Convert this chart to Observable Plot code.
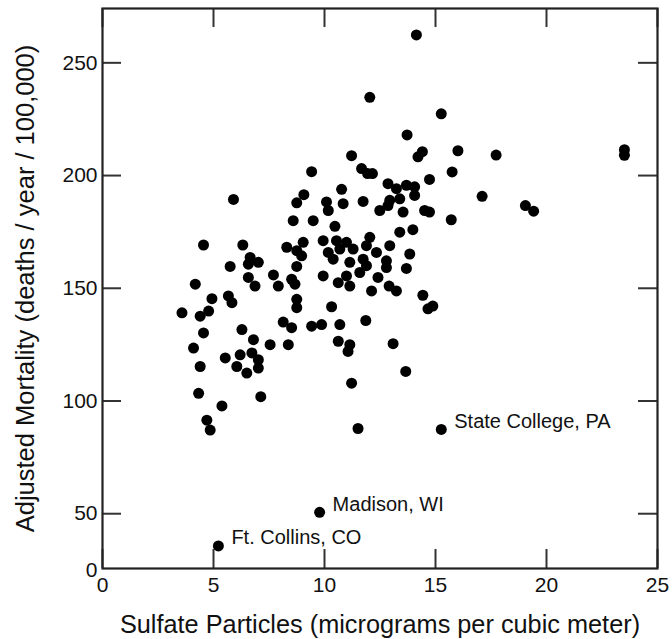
<!DOCTYPE html>
<html><head><meta charset="utf-8">
<script src="https://cdn.jsdelivr.net/npm/d3@7"></script>
<script src="https://cdn.jsdelivr.net/npm/@observablehq/plot@0.6"></script>
<style>
html,body{margin:0;padding:0;background:#fff;}
#chart svg{display:block;}
</style></head><body><div id="chart"></div>
<script>
const sulfate = [
  3.58,4.18,4.10,4.40,4.33,4.55,4.55,4.40,4.78,4.93,4.70,4.85,5.38,5.53,5.67,5.83,5.75,5.90,6.32,6.28,6.80,
  6.20,6.73,7.02,6.05,6.50,7.02,
  7.13,6.65,7.02,6.57,6.57,6.87,7.55,7.70,7.92,8.30,8.75,9.04,8.97,8.37,8.14,8.52,8.52,8.67,8.59,8.75,9.07,8.75,8.75,8.75,9.42,9.49,9.42,9.87,
  9.94,10.54,10.99,10.17,10.69,11.29,11.89,11.74,12.34,12.94,10.39,11.14,11.89,11.59,12.79,12.79,10.99,10.62,11.14,13.84,13.69,9.94,12.41,12.12,12.91,13.24,
  10.32,14.43,14.66,14.88,10.69,11.86,10.62,11.14,11.06,13.09,13.66,11.22,11.51,15.26,
  10.09,10.84,10.17,11.74,12.49,12.86,13.54,14.51,14.73,10.47,13.39,13.98,12.04,10.77,11.22,11.67,11.94,12.16,
  12.86,13.24,13.69,14.06,14.06,13.39,12.94,14.73,15.75,16.01,14.41,14.21,13.72,15.26,12.04,14.14,15.71,17.10,17.73,19.05,19.42,23.51,23.51,
  9.78,5.22
];
const mortality = [
  139.1,151.8,123.5,115.3,103.4,130.2,169.2,137.6,139.9,145.4,91.5,87.1,97.8,119.1,146.6,143.6,159.7,189.4,169.2,131.7,127.2,
  120.5,121.3,118.3,115.3,112.4,114.6,
  101.9,163.7,161.5,160.7,154.8,151.0,125.0,155.9,151.0,168.2,166.7,170.4,164.4,125.0,135.0,132.5,154.0,151.8,180.0,187.9,191.5,159.7,145.1,141.4,201.7,180.0,133.2,133.9,
  171.1,171.1,170.4,165.9,167.4,167.4,168.9,162.9,165.9,168.9,162.9,161.5,160.0,157.0,162.2,159.2,155.5,152.5,151.0,165.2,158.8,155.5,154.8,148.8,151.0,148.8,
  141.8,146.9,140.9,142.1,133.9,135.7,126.5,125.0,122.0,125.4,113.1,107.9,87.8,87.4,
  188.3,187.5,184.5,188.5,184.5,186.7,183.8,184.5,183.8,177.5,174.9,176.0,172.6,193.9,208.8,203.1,200.9,200.9,
  196.4,194.2,195.7,195.0,191.2,189.7,189.0,198.3,201.6,211.0,210.6,208.3,218.0,227.4,234.7,262.4,180.4,190.8,209.1,186.7,184.2,211.5,209.0,
  50.6,35.7
];
const labelNames = ["State College, PA", "Madison, WI", "Ft. Collins, CO"];
const labelSulfate = [15.26, 9.78, 5.22];
const labelMortality = [87.4, 50.6, 35.7];
const xTicks = [0, 5, 10, 15, 20, 25];
const yTicks = [50, 100, 150, 200, 250];
const yOriginLabel = "0";
const xTitle = "Sulfate Particles (micrograms per cubic meter)";
const yTitle = "Adjusted Mortality (deaths / year / 100,000)";

const points = sulfate.map((x, i) => ({x, y: mortality[i]}));
const labels = labelNames.map((name, i) => ({name, x: labelSulfate[i], y: labelMortality[i]}));
const font = "'Liberation Sans', Arial, Helvetica, sans-serif";

const W = 672, H = 639, mL = 102, mR = 15, mT = 8, mB = 71;
const frameW = W - mL - mR, frameH = H - mT - mB, tickLen = 19;
const tickStyle = {stroke: "#333", strokeWidth: 2};

const chart = Plot.plot({
  width: W, height: H,
  marginLeft: mL, marginRight: mR, marginTop: mT, marginBottom: mB,
  style: {background: "#fff", color: "#111", fontFamily: font, fontSize: "21px", overflow: "visible"},
  x: {domain: [0, 25]},
  y: {domain: [25.7, 274.1]},
  marks: [
    Plot.axisX({anchor: "bottom", ticks: xTicks, tickSize: 0, tickPadding: 9, tickFormat: d => String(d), label: null, fontSize: 21, fill: "#111", strokeOpacity: 0}),
    Plot.axisY({anchor: "left", ticks: yTicks, tickSize: 0, tickPadding: 5, tickFormat: d => String(d), label: null, fontSize: 21, fill: "#111", strokeOpacity: 0}),
    // inward ticks on all four sides
    Plot.ruleX(xTicks, {x: d => d, insetTop: frameH - tickLen, ...tickStyle}),
    Plot.ruleX(xTicks, {x: d => d, insetBottom: frameH - tickLen, ...tickStyle}),
    Plot.ruleY(yTicks, {y: d => d, insetRight: frameW - tickLen, ...tickStyle}),
    Plot.ruleY(yTicks, {y: d => d, insetLeft: frameW - tickLen, ...tickStyle}),
    Plot.frame({stroke: "#222", strokeWidth: 2.2}),
    Plot.dot(points, {x: "x", y: "y", r: 5.5, fill: "#000"}),
    Plot.text(labels, {x: "x", y: "y", text: "name", textAnchor: "start", dx: 13, dy: -8, fontSize: 20, fill: "#111"}),
    Plot.text([yOriginLabel], {frameAnchor: "bottom-left", textAnchor: "end", lineAnchor: "middle", dx: -5, dy: 2, fontSize: 21, fill: "#111"}),
    Plot.text([xTitle], {frameAnchor: "bottom", textAnchor: "middle", lineAnchor: "middle", dy: 56, fontSize: 25.3, fill: "#111"}),
    Plot.text([yTitle], {frameAnchor: "left", textAnchor: "middle", lineAnchor: "middle", dx: -77, rotate: -90, fontSize: 25.5, fill: "#111"})
  ]
});
document.getElementById("chart").appendChild(chart);
</script>
</body></html>
